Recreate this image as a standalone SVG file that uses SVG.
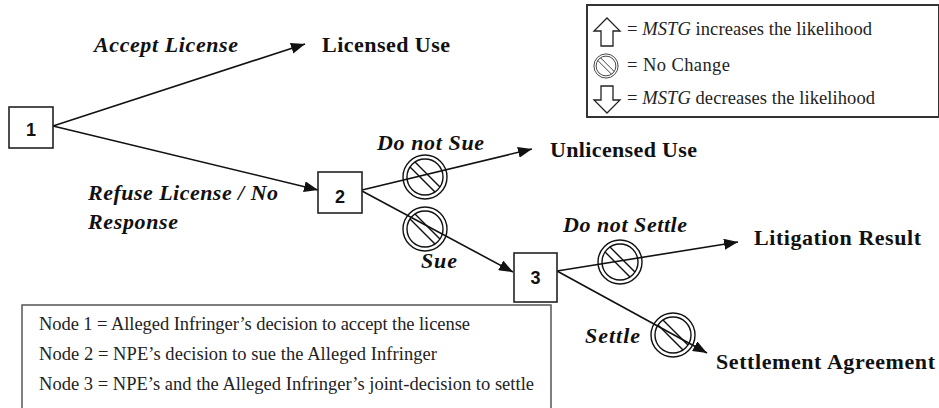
<svg xmlns="http://www.w3.org/2000/svg" width="939" height="408" viewBox="0 0 939 408">
<style>
.box{fill:#fff;stroke:#222;stroke-width:1.6}
.num{font-family:"Liberation Sans",Arial,sans-serif;font-weight:bold;font-size:18px;fill:#111;text-anchor:middle}
.lbl{font-family:"Liberation Serif","Times New Roman",serif;font-weight:bold;font-style:italic;font-size:22px;fill:#111}
.out{font-family:"Liberation Serif","Times New Roman",serif;font-weight:bold;font-size:22px;fill:#111}
.leg{font-family:"Liberation Serif","Times New Roman",serif;font-size:18.5px;fill:#222}
.edge{stroke:#111;stroke-width:1.6;fill:none}
.nc{fill:none;stroke:#111;stroke-width:1.4}
.blk{fill:#fff;stroke:#222;stroke-width:1.3;stroke-linejoin:miter}
</style>
<defs>
<marker id="ah" markerUnits="userSpaceOnUse" markerWidth="15" markerHeight="11" refX="14" refY="5.5" orient="auto">
<path d="M0,0 L14,5.5 L0,11 Z" fill="#111"/>
</marker>
<g id="noch">
<circle r="22" class="nc"/>
<circle r="18" class="nc"/>
<line x1="-10.02" y1="-14.96" x2="14.96" y2="10.02" class="nc"/>
<line x1="-14.96" y1="-10.02" x2="10.02" y2="14.96" class="nc"/>
</g>
</defs>

<g id="connectors">
<line class="edge" x1="53" y1="126" x2="305" y2="44" marker-end="url(#ah)"/>
<line class="edge" x1="53" y1="126" x2="318" y2="190" marker-end="url(#ah)"/>
<line class="edge" x1="362" y1="190" x2="532" y2="149" marker-end="url(#ah)"/>
<line class="edge" x1="362" y1="191" x2="513" y2="272" marker-end="url(#ah)"/>
<line class="edge" x1="557" y1="271" x2="738" y2="242" marker-end="url(#ah)"/>
<line class="edge" x1="557" y1="271" x2="707" y2="353" marker-end="url(#ah)"/>
</g>

<g id="nochange-icons">
<use href="#noch" x="425" y="177"/>
<use href="#noch" x="425" y="229"/>
<use href="#noch" x="620" y="262"/>
<use href="#noch" x="673" y="335"/>
</g>

<g id="node1">
<rect class="box" x="9" y="107" width="44" height="41"/>
<text class="num" x="31" y="136">1</text>
</g>
<g id="node2">
<rect class="box" x="318" y="172" width="44" height="41"/>
<text class="num" x="340" y="203">2</text>
</g>
<g id="node3">
<rect class="box" x="514" y="253" width="43" height="49"/>
<text class="num" x="535.5" y="284">3</text>
</g>

<g id="labels">
<text class="lbl" x="94" y="52" textLength="144">Accept License</text>
<text class="lbl" x="88" y="200" textLength="190">Refuse License / No</text>
<text class="lbl" x="88" y="229" textLength="90">Response</text>
<text class="lbl" x="377" y="150" textLength="107">Do not Sue</text>
<text class="lbl" x="421" y="268" textLength="36">Sue</text>
<text class="lbl" x="563" y="232" textLength="124">Do not Settle</text>
<text class="lbl" x="585" y="343" textLength="55">Settle</text>
</g>

<g id="outcomes">
<text class="out" x="322" y="52" textLength="128">Licensed Use</text>
<text class="out" x="550" y="157" textLength="147">Unlicensed Use</text>
<text class="out" x="754" y="245" textLength="167">Litigation Result</text>
<text class="out" x="716" y="369" textLength="219">Settlement Agreement</text>
</g>

<g id="legend-symbols">
<rect x="587" y="5" width="352" height="112" fill="#fff" stroke="#333" stroke-width="2"/>
<path class="blk" d="M607,18 L620,31 L613,31 L613,46 L601,46 L601,31 L594,31 Z"/>
<use href="#noch" transform="translate(606,66) scale(0.55)"/>
<path class="blk" d="M601,86 L613,86 L613,100 L620,100 L607,113 L594,100 L601,100 Z"/>
<text class="leg" x="627" y="35" textLength="245">= <tspan font-style="italic">MSTG</tspan> increases the likelihood</text>
<text class="leg" x="627" y="71" textLength="103">= No Change</text>
<text class="leg" x="627" y="104" textLength="248">= <tspan font-style="italic">MSTG</tspan> decreases the likelihood</text>
</g>

<g id="legend-nodes">
<rect x="22" y="305" width="529" height="110" fill="#fff" stroke="#555" stroke-width="1.5"/>
<text class="leg" x="39" y="330" textLength="431">Node 1 = Alleged Infringer’s decision to accept the license</text>
<text class="leg" x="39" y="360" textLength="398">Node 2 = NPE’s decision to sue the Alleged Infringer</text>
<text class="leg" x="39" y="390" textLength="495">Node 3 = NPE’s and the Alleged Infringer’s joint-decision to settle</text>
</g>
</svg>
